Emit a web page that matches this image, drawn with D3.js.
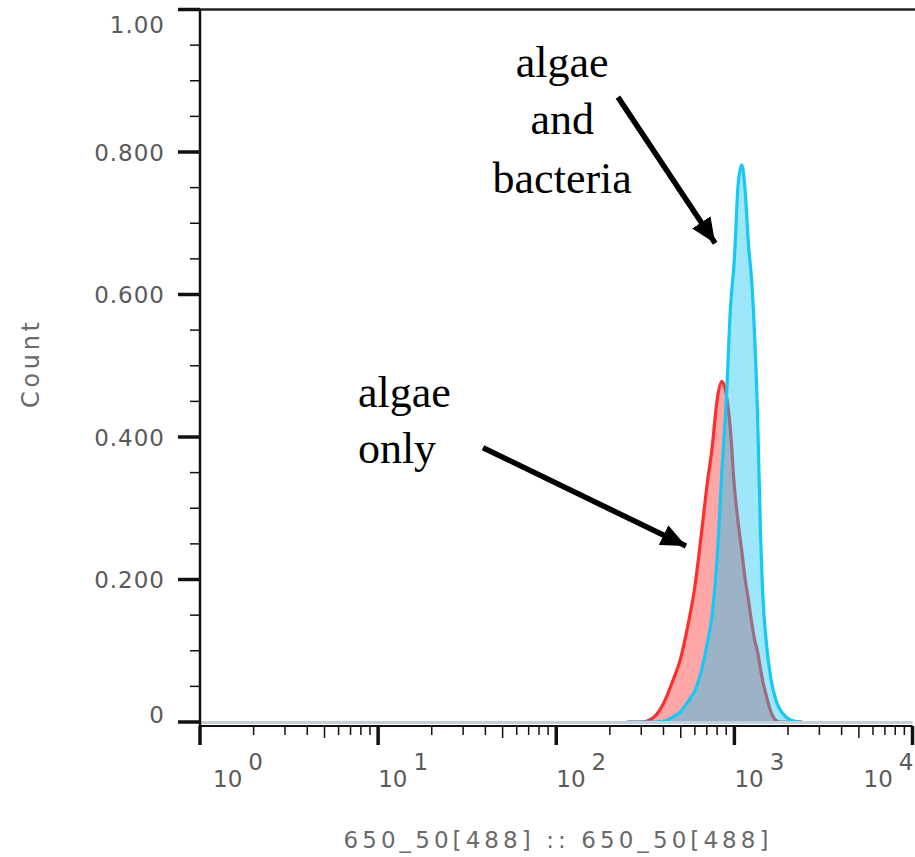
<!DOCTYPE html>
<html>
<head>
<meta charset="utf-8">
<script src="https://cdn.jsdelivr.net/npm/d3@7"></script>
<style>
  body { margin: 0; background: #fff; }
  svg { display: block; }
</style>
</head>
<body>
<svg id="chart"></svg>
<script>
// histogram bins (channel value, 650_50[488])
const channel = [250, 300, 350, 400, 450, 500, 550, 600, 650, 700, 750, 800, 850, 900, 950, 1000,
  1050, 1100, 1150, 1200, 1250, 1300, 1350, 1400, 1450, 1500, 1600, 1700, 1800, 1900, 2000, 2200, 2400]
const algaeOnly = [0, 0, 0.006, 0.026, 0.057, 0.09, 0.137, 0.19, 0.26, 0.33, 0.385, 0.452, 0.478, 0.46, 0.41, 0.33,
  0.28, 0.24, 0.2, 0.171, 0.14, 0.115, 0.098, 0.075, 0.055, 0.04, 0.015, 0.003, 0, 0, 0, 0, 0]
const algaeBacteria = [0, 0, 0, 0.001, 0.007, 0.015, 0.029, 0.044, 0.07, 0.107, 0.15, 0.23, 0.35, 0.45, 0.58, 0.65,
  0.755, 0.782, 0.745, 0.67, 0.62, 0.54, 0.43, 0.27, 0.17, 0.12, 0.062, 0.033, 0.018, 0.01, 0.005, 0.001, 0]

const yMajor = [0, 0.2, 0.4, 0.6, 0.8, 1.0]
const yLabels = ["0", "0.200", "0.400", "0.600", "0.800", "1.00"]
const yMinor = [0.05, 0.1, 0.15, 0.25, 0.3, 0.35, 0.45, 0.5, 0.55, 0.65, 0.7, 0.75, 0.85, 0.9, 0.95]
const xMajor = [1, 10, 100, 1000, 10000]
const xExponents = ["0", "1", "2", "3", "4"]

// annotation text and arrows, in data units
const notes = [
  { lines: ["algae", "and", "bacteria"], x: 108, y: [0.905, 0.825, 0.742], anchor: "middle" },
  { lines: ["algae", "only"], x: 7.7, y: [0.442, 0.3635], anchor: "start" }
]
const arrows = [
  { from: [222, 0.877], to: [780, 0.672] },
  { from: [38.8, 0.385], to: [535, 0.247] }
]

const dimensions = { width: 915, height: 857 }

const svg = d3.select("#chart")
  .attr("width", dimensions.width)
  .attr("height", dimensions.height)

const x = d3.scaleLog().domain([1, 10000]).range([200, 912.5])
const y = d3.scaleLinear().domain([0, 1]).range([722, 9.5])

const tickFont = "DejaVu Sans, sans-serif"
const tickColor = "#5a5a5a"

svg.append("defs").append("filter")
  .attr("id", "soft")
  .append("feGaussianBlur")
  .attr("stdDeviation", 0.6)

// top frame line
svg.append("line")
  .attr("x1", 178).attr("x2", dimensions.width)
  .attr("y1", y(1)).attr("y2", y(1))
  .attr("stroke", "#222").attr("stroke-width", 2.5)

// histogram areas
const area = d3.area()
  .x((d, i) => x(channel[i]))
  .y0(y(0))
  .y1(d => y(d))
  .curve(d3.curveMonotoneX)
const line = d3.line()
  .x((d, i) => x(channel[i]))
  .y(d => y(d))
  .curve(d3.curveMonotoneX)

const curves = svg.append("g").attr("filter", "url(#soft)")

curves.append("path")
  .attr("d", area(algaeOnly))
  .attr("fill", "rgba(255,0,0,0.35)")
curves.append("path")
  .attr("d", line(algaeOnly))
  .attr("fill", "none")
  .attr("stroke", "#ff2f2f")
  .attr("stroke-width", 3.2)

curves.append("path")
  .attr("d", area(algaeBacteria))
  .attr("fill", "rgba(18,196,244,0.42)")
curves.append("path")
  .attr("d", line(algaeBacteria))
  .attr("fill", "none")
  .attr("stroke", "#16c8f4")
  .attr("stroke-width", 3.2)

// zero baseline of the histograms
svg.append("line")
  .attr("x1", x(1)).attr("x2", x(10000))
  .attr("y1", y(0) + 0.5).attr("y2", y(0) + 0.5)
  .attr("stroke", "#c3d0d9").attr("stroke-width", 3)

// y axis
const axisY = 726
svg.append("line")
  .attr("x1", x(1)).attr("x2", x(1))
  .attr("y1", y(1)).attr("y2", axisY)
  .attr("stroke", "#111").attr("stroke-width", 2.5)

svg.append("g").selectAll("line")
  .data(yMajor).enter().append("line")
  .attr("x1", x(1) - 22).attr("x2", x(1))
  .attr("y1", d => y(d)).attr("y2", d => y(d))
  .attr("stroke", "#111").attr("stroke-width", 3.5)

svg.append("g").selectAll("line")
  .data(yMinor).enter().append("line")
  .attr("x1", x(1) - 10).attr("x2", x(1))
  .attr("y1", d => y(d)).attr("y2", d => y(d))
  .attr("stroke", "#111").attr("stroke-width", 1.5)

svg.append("g").selectAll("text")
  .data(yMajor).enter().append("text")
  .attr("x", x(1) - 35)
  .attr("y", (d, i) => y(d) + (i === yMajor.length - 1 ? 23 : i === 0 ? 0.5 : 8.5))
  .attr("text-anchor", "end")
  .attr("font-family", tickFont)
  .attr("font-size", 23)
  .attr("letter-spacing", 1)
  .attr("fill", tickColor)
  .text((d, i) => yLabels[i])

// x axis
svg.append("line")
  .attr("x1", x(1)).attr("x2", x(10000))
  .attr("y1", axisY).attr("y2", axisY)
  .attr("stroke", "#111").attr("stroke-width", 2)

const xMinor = x.ticks().filter(d => xMajor.indexOf(d) < 0)

svg.append("g").selectAll("line")
  .data(xMinor).enter().append("line")
  .attr("x1", d => x(d)).attr("x2", d => x(d))
  .attr("y1", axisY)
  .attr("y2", d => axisY + (String(d)[0] === "5" ? 12 : 9))
  .attr("stroke", "#111").attr("stroke-width", 1.5)

svg.append("g").selectAll("line")
  .data(xMajor).enter().append("line")
  .attr("x1", d => x(d)).attr("x2", d => x(d))
  .attr("y1", axisY).attr("y2", axisY + 19)
  .attr("stroke", "#111").attr("stroke-width", 3.5)

const xLab = svg.append("g").selectAll("text")
  .data(xMajor).enter().append("text")
  .attr("x", (d, i) => x(d) + (i === 0 ? 13 : i === xMajor.length - 1 ? 1 : 0))
  .attr("y", 787)
  .attr("text-anchor", (d, i) => i === xMajor.length - 1 ? "end" : "start")
  .attr("font-family", tickFont)
  .attr("font-size", 23)
  .attr("fill", tickColor)
xLab.append("tspan").text("10")
xLab.append("tspan")
  .attr("dx", 6).attr("dy", -17)
  .text((d, i) => xExponents[i])

// axis titles
svg.append("text")
  .attr("x", 556).attr("y", 848)
  .attr("text-anchor", "middle")
  .attr("font-family", tickFont)
  .attr("font-size", 23)
  .attr("fill", "#6a6a6a")
  .attr("textLength", 425)
  .attr("lengthAdjust", "spacing")
  .text("650_50[488] :: 650_50[488]")

svg.append("text")
  .attr("transform", "translate(39,365) rotate(-90)")
  .attr("text-anchor", "middle")
  .attr("font-family", tickFont)
  .attr("font-size", 24)
  .attr("fill", "#6a6a6a")
  .attr("textLength", 86)
  .attr("lengthAdjust", "spacing")
  .text("Count")

// annotations
svg.select("defs").append("marker")
  .attr("id", "head")
  .attr("markerUnits", "userSpaceOnUse")
  .attr("markerWidth", 26).attr("markerHeight", 22)
  .attr("refX", 25).attr("refY", 11)
  .attr("orient", "auto")
  .append("path")
  .attr("d", "M0,0 L25,11 L0,22 Z")
  .attr("fill", "#000")

notes.forEach(n => {
  n.lines.forEach((t, i) => {
    svg.append("text")
      .attr("x", x(n.x))
      .attr("y", y(n.y[i]))
      .attr("text-anchor", n.anchor)
      .attr("font-family", "Liberation Serif, Times New Roman, serif")
      .attr("font-size", 44)
      .attr("fill", "#000")
      .text(t)
  })
})

arrows.forEach(a => {
  const x1 = x(a.from[0]), y1 = y(a.from[1])
  const x2 = x(a.to[0]), y2 = y(a.to[1])
  svg.append("path")
    .attr("d", `M${x1},${y1} L${x2},${y2}`)
    .attr("stroke", "#000")
    .attr("stroke-width", 5.5)
    .attr("fill", "none")
    .attr("marker-end", "url(#head)")
})
</script>
</body>
</html>
